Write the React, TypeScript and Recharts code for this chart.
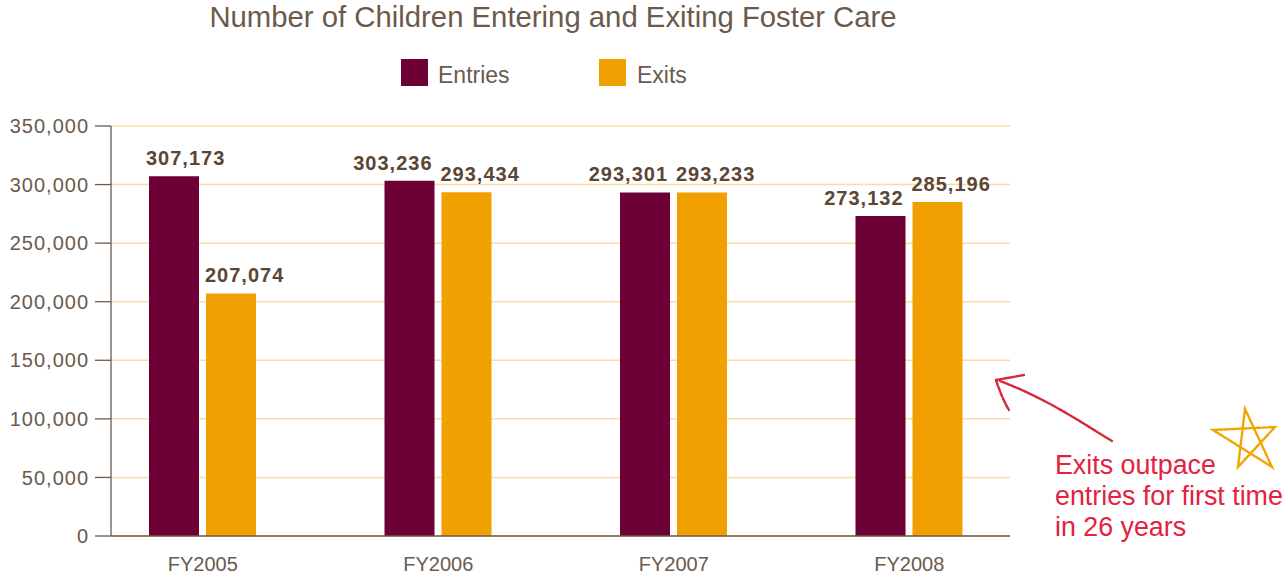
import React from 'react';
import { BarChart, Bar, XAxis, YAxis, CartesianGrid, LabelList } from 'recharts';

const categories = ['FY2005', 'FY2006', 'FY2007', 'FY2008'];
const entries = [307173, 303236, 293301, 273132];
const exits = [207074, 293434, 293233, 285196];
const yTicks = [0, 50000, 100000, 150000, 200000, 250000, 300000, 350000];

const ENTRY_COLOR = '#6d0034';
const EXIT_COLOR = '#f0a000';
const TEXT = '#6b5a4c';
const LABEL = '#5b4636';
const AXIS = '#6b5a4c';
const GRID = '#fcdca6';
const NOTE = '#e2223f';

const chartData = categories.map((name, i) => ({ name, entries: entries[i], exits: exits[i] }));

const fmt = (v: number) => v.toLocaleString('en-US');

const numFont = '"Liberation Sans", Arial, sans-serif';

// entries label hugs the bar's right edge when the exits value is close, otherwise starts at the left
const EntryLabel = (props: any) => {
    const { x, y, width, value, index } = props;
    const close = Math.abs(value - exits[index]) < 50000;
    return (
        <text
            x={close ? x + width - 2 : x - 3}
            y={y - 11}
            textAnchor={close ? 'end' : 'start'}
            fontFamily={numFont}
            fontWeight="bold"
            fontSize={20}
            letterSpacing={1}
            fill={LABEL}
        >
            {fmt(value)}
        </text>
    );
};

const ExitLabel = (props: any) => {
    const { x, y, value } = props;
    return (
        <text x={x - 1} y={y - 11} textAnchor="start" fontFamily={numFont} fontWeight="bold" fontSize={20} letterSpacing={1} fill={LABEL}>
            {fmt(value)}
        </text>
    );
};

export default function App() {
    return (
        <div style={{ position: 'absolute', left: 0, top: 0, width: 1286, height: 579, background: '#fff' }}>
            <BarChart
                width={1286}
                height={579}
                data={chartData}
                margin={{ top: 126, right: 276, bottom: 0, left: 0 }}
                barSize={50}
                barGap={7}
            >
                <CartesianGrid vertical={false} stroke={GRID} strokeWidth={1.5} />
                <XAxis
                    dataKey="name"
                    height={43}
                    padding={{ left: -26, right: -17 }}
                    tickLine={false}
                    tickSize={6}
                    tickMargin={15}
                    axisLine={{ stroke: AXIS, strokeWidth: 1.3 }}
                    tick={{ fill: TEXT, fontSize: 20, fontFamily: numFont }}
                />
                <YAxis
                    width={111}
                    domain={[0, 350000]}
                    ticks={yTicks}
                    tickFormatter={fmt}
                    tickSize={16}
                    tickMargin={6}
                    axisLine={{ stroke: AXIS, strokeWidth: 1.3 }}
                    tickLine={{ stroke: AXIS, strokeWidth: 1.3 }}
                    tick={{ fill: TEXT, fontSize: 20, fontFamily: numFont, letterSpacing: 1 }}
                />
                <Bar dataKey="entries" name="Entries" fill={ENTRY_COLOR} isAnimationActive={false}>
                    <LabelList dataKey="entries" content={<EntryLabel />} />
                </Bar>
                <Bar dataKey="exits" name="Exits" fill={EXIT_COLOR} isAnimationActive={false}>
                    <LabelList dataKey="exits" content={<ExitLabel />} />
                </Bar>
            </BarChart>

            {/* title, legend, note and the hand-drawn arrow and star */}
            <svg width={1286} height={579} style={{ position: 'absolute', left: 0, top: 0, pointerEvents: 'none' }}>
                <text x={553} y={27} textAnchor="middle" fontFamily={numFont} fontSize={29.3} fill={TEXT}>
                    Number of Children Entering and Exiting Foster Care
                </text>
                <g fontFamily={numFont} fontSize={23} fill={TEXT}>
                    <rect x={401} y={59} width={27} height={27} fill={ENTRY_COLOR} />
                    <text x={438} y={83}>Entries</text>
                    <rect x={599} y={59} width={27} height={27} fill={EXIT_COLOR} />
                    <text x={637} y={83}>Exits</text>
                </g>
                <g fontFamily={numFont} fontSize={26.8} fill={NOTE}>
                    <text x={1055} y={474}>Exits outpace</text>
                    <text x={1055} y={505}>entries for first time</text>
                    <text x={1055} y={536}>in 26 years</text>
                </g>
                <g stroke="#d8283e" strokeWidth={2.4} fill="none" strokeLinecap="round" strokeDasharray="5 1.5">
                    <path d="M1112,441 C1085,425 1050,400 1000,381" />
                    <path d="M996,380 L1024,375" />
                    <path d="M996,380 C1000,392 1004,402 1009,410" />
                </g>
                <g stroke="#f0a500" strokeWidth={2.4} fill="none" strokeLinecap="round" strokeDasharray="6 1.5">
                    <path d="M1245,409 L1238,467 L1275,427 L1213,430 L1272,467 Z" />
                </g>
            </svg>
        </div>
    );
}
